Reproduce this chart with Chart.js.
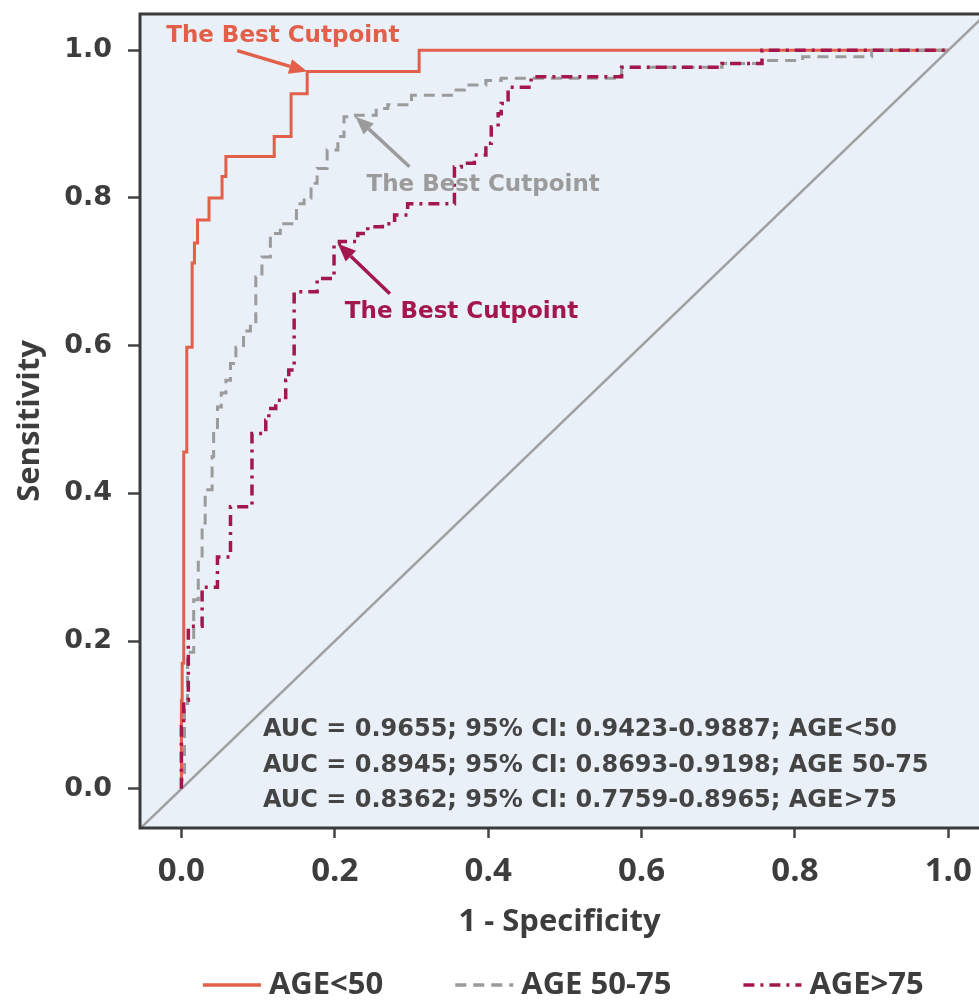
<!DOCTYPE html>
<html>
<head>
<meta charset="utf-8">
<script src="https://cdn.jsdelivr.net/npm/chart.js@4.4.1/dist/chart.umd.min.js"></script>
<style>
  html, body { margin: 0; padding: 0; background: #fff; overflow: hidden; }
  #wrap { width: 979px; height: 1004px; }
</style>
</head>
<body>
<div id="wrap"><canvas id="roc" width="979" height="1004"></canvas></div>
<script>
// ROC curve points (1 - specificity, sensitivity) for each age group
const groups = ["AGE<50", "AGE 50-75", "AGE>75"];

const fprU50 = [0, 0.001, 0.003, 0.007, 0.014, 0.017, 0.021, 0.036, 0.053, 0.058, 0.121, 0.143, 0.164, 0.310, 1];
const tprU50 = [0, 0.120, 0.170, 0.456, 0.598, 0.712, 0.739, 0.770, 0.800, 0.829, 0.856, 0.883, 0.941, 0.971, 1];

const fpr5075 = [0, 0.004, 0.008, 0.016, 0.022, 0.027, 0.031, 0.040, 0.042, 0.047,
                 0.052, 0.058, 0.064, 0.071, 0.081, 0.090, 0.097, 0.105, 0.116, 0.129,
                 0.150, 0.160, 0.169, 0.177, 0.190, 0.204, 0.212, 0.227, 0.254, 0.269,
                 0.300, 0.352, 0.369, 0.397, 0.417, 0.574, 0.705, 0.757, 0.810, 0.900, 1];
const tpr5075 = [0, 0.012, 0.110, 0.185, 0.256, 0.310, 0.360, 0.405, 0.450, 0.486,
                 0.517, 0.536, 0.553, 0.576, 0.598, 0.620, 0.630, 0.693, 0.720, 0.752,
                 0.765, 0.792, 0.800, 0.820, 0.840, 0.865, 0.883, 0.910, 0.912, 0.921,
                 0.926, 0.939, 0.946, 0.953, 0.959, 0.962, 0.977, 0.982, 0.986, 0.991, 1];

const fprO75 = [0, 0.003, 0.009, 0.027, 0.047, 0.064, 0.092, 0.110, 0.114, 0.123,
                0.136, 0.140, 0.147, 0.177, 0.199, 0.206, 0.230, 0.243, 0.262, 0.278,
                0.295, 0.356, 0.365, 0.382, 0.397, 0.404, 0.413, 0.417, 0.426, 0.456,
                0.574, 0.705, 0.757, 1];
const tprO75 = [0, 0.084, 0.120, 0.220, 0.273, 0.314, 0.382, 0.481, 0.499, 0.515,
                0.526, 0.553, 0.567, 0.673, 0.691, 0.738, 0.741, 0.752, 0.761, 0.765,
                0.777, 0.792, 0.842, 0.847, 0.858, 0.874, 0.896, 0.914, 0.928, 0.950,
                0.964, 0.977, 0.982, 1];

// best cutpoint of each curve
const cutFpr = [0.164, 0.227, 0.204];
const cutTpr = [0.971, 0.910, 0.738];

const aucLines = [
  "AUC = 0.9655; 95% CI: 0.9423-0.9887; AGE<50",
  "AUC = 0.8945; 95% CI: 0.8693-0.9198; AGE 50-75",
  "AUC = 0.8362; 95% CI: 0.7759-0.8965; AGE>75"
];

const tickVals = [0, 0.2, 0.4, 0.6, 0.8, 1.0];

const colors = ["#e2604a", "#9b9b9b", "#a3174c"];
const dashes = [[], [11, 7], [11, 6, 3, 6]];
const textColor = "#3d3d3d";

function points(xs, ys) {
  return xs.map((x, i) => ({ x: x, y: ys[i] }));
}

// light blue panel behind the curves
const panelBg = {
  id: "panelBg",
  beforeDraw(chart) {
    const { ctx, chartArea: a } = chart;
    ctx.save();
    ctx.fillStyle = "#e9f0f8";
    ctx.fillRect(a.left, a.top, a.right - a.left, a.bottom - a.top);
    ctx.restore();
  }
};

// panel border (right side runs off the canvas)
const panelFrame = {
  id: "panelFrame",
  afterDatasetsDraw(chart) {
    const { ctx, chartArea: a } = chart;
    ctx.save();
    ctx.strokeStyle = "#3a3a3a";
    ctx.lineWidth = 3;
    ctx.beginPath();
    ctx.moveTo(a.right + 2, a.top);
    ctx.lineTo(a.left, a.top);
    ctx.lineTo(a.left, a.bottom);
    ctx.lineTo(a.right + 2, a.bottom);
    ctx.stroke();
    ctx.restore();
  }
};

function drawArrow(ctx, x1, y1, x2, y2, color) {
  const ang = Math.atan2(y2 - y1, x2 - x1);
  const head = 18, half = 7.5;
  const bx = x2 - head * Math.cos(ang), by = y2 - head * Math.sin(ang);
  ctx.strokeStyle = color;
  ctx.lineWidth = 3.5;
  ctx.beginPath();
  ctx.moveTo(x1, y1);
  ctx.lineTo(bx, by);
  ctx.stroke();
  ctx.fillStyle = color;
  ctx.beginPath();
  ctx.moveTo(x2, y2);
  ctx.lineTo(bx + half * Math.sin(ang), by - half * Math.cos(ang));
  ctx.lineTo(bx - half * Math.sin(ang), by + half * Math.cos(ang));
  ctx.closePath();
  ctx.fill();
}

// arrows + "The Best Cutpoint" labels, and the AUC text block
const annotations = {
  id: "annotations",
  afterDraw(chart) {
    const { ctx, chartArea: a } = chart;
    const xs = chart.scales.x, ys = chart.scales.y;
    // tail and label offsets from the arrow tip, in px
    const layout = [
      { tail: [-70, -21], label: [-141, -36] },
      { tail: [54, 50], label: [11, 68] },
      { tail: [52, 50], label: [7, 68] }
    ];
    ctx.save();
    cutFpr.forEach((fx, i) => {
      const px = xs.getPixelForValue(fx);
      const py = ys.getPixelForValue(cutTpr[i]);
      const l = layout[i];
      drawArrow(ctx, px + l.tail[0], py + l.tail[1], px, py, colors[i]);
      ctx.font = "bold 23px 'DejaVu Sans'";
      ctx.fillStyle = colors[i];
      ctx.textAlign = "left";
      ctx.textBaseline = "middle";
      ctx.fillText("The Best Cutpoint", px + l.label[0], py + l.label[1]);
    });

    ctx.font = "bold 24px 'DejaVu Sans'";
    ctx.fillStyle = "#444";
    ctx.textAlign = "left";
    ctx.textBaseline = "middle";
    aucLines.forEach((t, i) => {
      ctx.fillText(t, a.left + 123, a.bottom - 98 + i * 35.5);
    });
    ctx.restore();
  }
};

// legend under the axis title, centred on the full panel width
const bottomLegend = {
  id: "bottomLegend",
  afterDraw(chart) {
    const { ctx, chartArea: a } = chart;
    const panelRight = chart.scales.x.getPixelForValue(1.05);
    const center = (a.left + panelRight) / 2;
    const sample = 58, gap = 8, spacing = 72, y = 985;
    ctx.save();
    ctx.font = "700 31px 'Open Sans'";
    const widths = groups.map(g => sample + gap + ctx.measureText(g).width);
    const total = widths.reduce((s, w) => s + w, 0) + spacing * (groups.length - 1);
    let x = center - total / 2;
    groups.forEach((g, i) => {
      ctx.strokeStyle = colors[i];
      ctx.lineWidth = 3.5;
      ctx.setLineDash(dashes[i]);
      ctx.beginPath();
      ctx.moveTo(x, y);
      ctx.lineTo(x + sample, y);
      ctx.stroke();
      ctx.setLineDash([]);
      ctx.fillStyle = textColor;
      ctx.textAlign = "left";
      ctx.textBaseline = "middle";
      ctx.fillText(g, x + sample + gap, y);
      x += widths[i] + spacing;
    });
    ctx.restore();
  }
};

const setTicks = scale => {
  scale.ticks = tickVals.map(v => ({ value: v }));
};

new Chart(document.getElementById("roc"), {
  type: "line",
  data: {
    datasets: [
      {
        label: groups[0],
        data: points(fprU50, tprU50),
        borderColor: colors[0],
        borderWidth: 3,
        borderDash: dashes[0],
        stepped: "after",
        order: 3
      },
      {
        label: groups[1],
        data: points(fpr5075, tpr5075),
        borderColor: colors[1],
        borderWidth: 3,
        borderDash: dashes[1],
        stepped: "after",
        order: 2
      },
      {
        label: groups[2],
        data: points(fprO75, tprO75),
        borderColor: colors[2],
        borderWidth: 3.5,
        borderDash: dashes[2],
        stepped: "after",
        order: 1
      },
      {
        label: "reference",
        data: [{ x: -0.1, y: -0.1 }, { x: 1.1, y: 1.1 }],
        borderColor: "#a0a0a0",
        borderWidth: 2.5,
        order: 10
      }
    ]
  },
  options: {
    responsive: false,
    animation: false,
    elements: {
      point: { radius: 0, hoverRadius: 0 },
      line: { tension: 0, fill: false, borderCapStyle: "butt", borderJoinStyle: "miter" }
    },
    layout: { padding: { top: 14, left: 0, right: 0, bottom: 63 } },
    plugins: {
      legend: { display: false },
      tooltip: { enabled: false }
    },
    scales: {
      x: {
        type: "linear",
        min: -0.054,
        max: 1.040,
        afterBuildTicks: setTicks,
        afterFit: s => { s.height = 113; s.paddingLeft = 0; s.paddingRight = 0; },
        border: { display: false },
        grid: { drawOnChartArea: false, tickLength: 10, tickWidth: 2.5, tickColor: "#444" },
        ticks: {
          padding: 14,
          color: textColor,
          autoSkip: false,
          maxRotation: 0,
          font: { family: "Open Sans", weight: 700, size: 33 },
          callback: v => v.toFixed(1)
        },
        title: {
          display: true,
          text: "1 - Specificity",
          color: textColor,
          font: { family: "Open Sans", weight: 700, size: 31 },
          padding: { top: 0, bottom: 0 }
        }
      },
      y: {
        type: "linear",
        min: -0.053,
        max: 1.049,
        afterBuildTicks: setTicks,
        afterFit: s => { s.width = 140; s.paddingTop = 0; s.paddingBottom = 0; },
        border: { display: false },
        grid: { drawOnChartArea: false, tickLength: 12, tickWidth: 2.5, tickColor: "#444" },
        ticks: {
          padding: 16,
          color: textColor,
          font: { family: "DejaVu Sans", weight: "bold", size: 27 },
          callback: v => v.toFixed(1)
        },
        title: {
          display: true,
          text: "Sensitivity",
          color: textColor,
          font: { family: "Open Sans", weight: 700, size: 31 },
          padding: { top: 12, bottom: 0 }
        }
      }
    }
  },
  plugins: [panelBg, panelFrame, annotations, bottomLegend]
});
</script>
</body>
</html>
